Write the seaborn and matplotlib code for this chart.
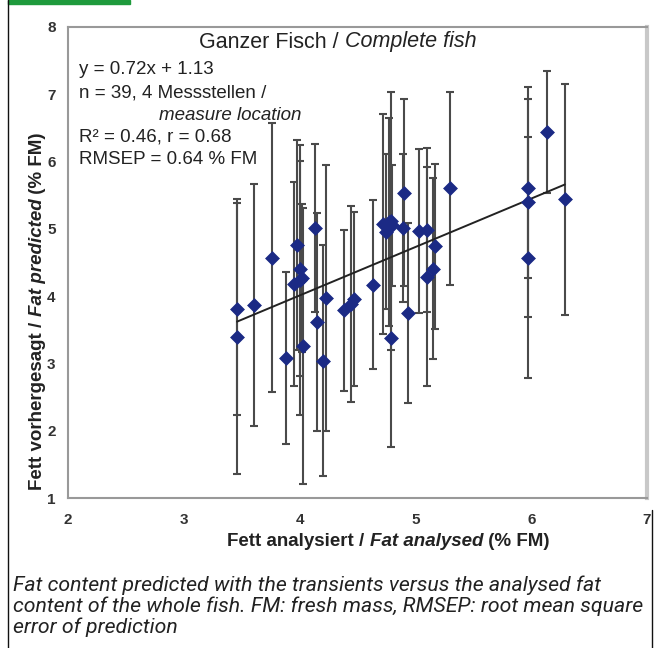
import numpy as np
import pandas as pd
import seaborn as sns
import matplotlib.pyplot as plt
from matplotlib.patches import Rectangle
from matplotlib.lines import Line2D

# fat analysed (% FM), fat predicted (% FM), error bar half-width
fat_analysed = [3.46, 3.46, 3.61, 3.76, 3.88, 3.95, 3.98, 4.00, 4.00, 4.02,
                4.03, 4.13, 4.15, 4.20, 4.23, 4.38, 4.44, 4.47, 4.63, 4.72,
                4.75, 4.77, 4.79, 4.80, 4.79, 4.90, 4.89, 4.94, 5.03, 5.10,
                5.10, 5.17, 5.15, 5.30, 5.97, 5.97, 5.97, 6.14, 6.29]
fat_predicted = [3.81, 3.40, 3.87, 4.57, 3.08, 4.18, 4.76, 4.41, 4.24, 4.27,
                 3.26, 5.01, 3.61, 3.04, 3.97, 3.79, 3.88, 3.96, 4.17, 5.07,
                 4.96, 5.10, 5.12, 5.05, 3.38, 5.54, 5.01, 3.75, 4.97, 4.98,
                 4.29, 4.74, 4.41, 5.60, 5.60, 5.40, 4.57, 6.44, 5.44]
pred_err = [1.58, 2.05, 1.80, 2.00, 1.28, 1.52, 1.56, 1.60, 2.00, 1.10,
            2.05, 1.25, 1.62, 1.72, 1.98, 1.20, 1.46, 1.29, 1.26, 1.64,
            1.15, 1.55, 1.92, 0.90, 1.62, 1.39, 1.10, 1.34, 1.22, 1.22,
            1.63, 1.23, 1.34, 1.44, 1.33, 1.71, 1.79, 0.90, 1.72]

slope, intercept = 0.72, 1.13

df = pd.DataFrame({"analysed": fat_analysed, "predicted": fat_predicted, "err": pred_err})

sns.set_theme(style="white")
plt.rcParams["font.family"] = ["Liberation Sans", "DejaVu Sans"]

fig = plt.figure(figsize=(6.55, 6.48), dpi=100)
ax = fig.add_axes([68 / 655, 1 - 498 / 648, (647 - 68) / 655, (498 - 27) / 648])

ax.errorbar(df["analysed"], df["predicted"], yerr=df["err"], fmt="none",
            ecolor="#4a4a4a", elinewidth=1.5, capsize=3, capthick=1.5, zorder=2)

fit = pd.DataFrame({"x": [df["analysed"].min(), df["analysed"].max()]})
fit["y"] = slope * fit["x"] + intercept
sns.lineplot(data=fit, x="x", y="y", color="#222222", linewidth=1.4, ax=ax, zorder=3)

sns.scatterplot(data=df, x="analysed", y="predicted", marker="D", s=50,
                color="#1b2a85", edgecolor="#1b2a85", linewidth=0.5, ax=ax, zorder=4)

ax.set_xlim(2, 7)
ax.set_ylim(1, 8)
ax.set_xticks([2, 3, 4, 5, 6, 7])
ax.set_yticks([1, 2, 3, 4, 5, 6, 7, 8])
ax.tick_params(axis="both", which="both", direction="out", length=4, width=1,
               color="#888888", labelsize=11, labelcolor="#333333", pad=5)
ax.tick_params(axis="x", pad=7)
for lab in ax.get_xticklabels() + ax.get_yticklabels():
    lab.set_fontweight("bold")
ax.set_xlabel("")
ax.set_ylabel("")
for side in ["top", "left", "bottom", "right"]:
    ax.spines[side].set_color("#999999")
    ax.spines[side].set_linewidth(1.5)
ax.spines["right"].set_color("#c8c8c8")
ax.spines["right"].set_linewidth(3)

# title inside the axes
t1 = fig.text(199 / 655, 1 - 42 / 648, "Ganzer Fisch / ", ha="left", va="center",
              fontsize=15.5, color="#222222")
ax.annotate("Complete fish", xy=(1, 0), xycoords=t1, ha="left", va="bottom",
            fontsize=15.5, style="italic", color="#222222")

# statistics block
stats = [("y = 0.72x + 1.13", 79, 70, "normal"),
         ("n = 39, 4 Messstellen /", 79, 93, "normal"),
         ("measure location", 159, 115, "italic"),
         ("R² = 0.46, r = 0.68", 79, 137, "normal"),
         ("RMSEP = 0.64 % FM", 79, 159, "normal")]
for txt, px, py, st in stats:
    fig.text(px / 655, 1 - py / 648, txt, ha="left", va="center", fontsize=13.5,
             style=st, color="#222222")

# axis labels with mixed styles
xl1 = fig.text(227 / 655, 1 - 541 / 648, "Fett analysiert / ", ha="left", va="center",
               fontsize=13.5, weight="bold", color="#222222")
xl2 = ax.annotate("Fat analysed", xy=(1, 0), xycoords=xl1, ha="left", va="bottom",
                  fontsize=13.5, weight="bold", style="italic", color="#222222")
ax.annotate(" (% FM)", xy=(1, 0), xycoords=xl2, ha="left", va="bottom",
            fontsize=13.5, weight="bold", color="#222222")

yl1 = fig.text(29 / 655, 1 - 490 / 648, "Fett vorhergesagt / ", rotation=90, ha="left",
               va="bottom", fontsize=13.5, weight="bold", color="#222222")
yl2 = ax.annotate("Fat predicted", xy=(0, 1), xycoords=yl1, rotation=90, ha="left",
                  va="bottom", fontsize=13.5, weight="bold", style="italic", color="#222222")
ax.annotate(" (% FM)", xy=(0, 1), xycoords=yl2, rotation=90, ha="left", va="bottom",
            fontsize=13.5, weight="bold", color="#222222")

# caption
caption = ["Fat content predicted with the transients versus the analysed fat",
           "content of the whole fish. FM: fresh mass, RMSEP: root mean square",
           "error of prediction"]
for i, line in enumerate(caption):
    fig.text(13 / 655, 1 - (585 + 21 * i) / 648, line, ha="left", va="center",
             fontsize=15.3, style="italic", color="#222222",
             family=["Roboto", "DejaVu Sans"])

# page decoration: green tab and frame lines
fig.patches.append(Rectangle((8 / 655, 1 - 4 / 648), 122 / 655, 4 / 648,
                             transform=fig.transFigure, color="#1e9a3c"))
fig.lines.append(Line2D([8 / 655, 8 / 655], [0, 1], transform=fig.transFigure,
                        color="#111111", linewidth=1))
fig.lines.append(Line2D([652 / 655, 652 / 655], [0, 1 - 510 / 648],
                        transform=fig.transFigure, color="#111111", linewidth=1))

fig.savefig("out.png", dpi=100)
